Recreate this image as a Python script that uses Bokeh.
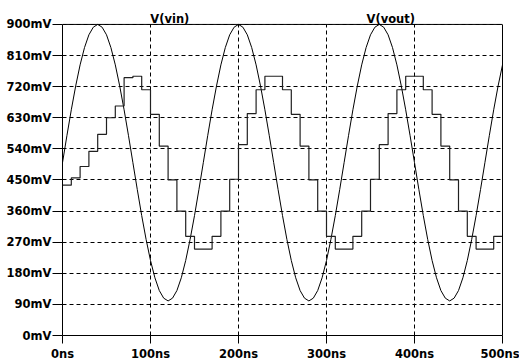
from bokeh.plotting import figure
from bokeh.models import Range1d, FixedTicker, Label, LinearAxis, Span
from bokeh.embed import file_html
from bokeh.resources import INLINE

# ---- data ----
# V(vin): sine read every 5 ns, mV
vin_t_ns = list(range(0, 501, 5))
vin_mV = [
    500, 578, 653, 722, 783, 833, 870, 892, 900, 892, 870, 833, 783, 722, 653, 578,
    500, 422, 347, 278, 217, 167, 130, 108, 100, 108, 130, 167, 217, 278, 347, 422,
    500, 578, 653, 722, 783, 833, 870, 892, 900, 892, 870, 833, 783, 722, 653, 578,
    500, 422, 347, 278, 217, 167, 130, 108, 100, 108, 130, 167, 217, 278, 347, 422,
    500, 578, 653, 722, 783, 833, 870, 892, 900, 892, 870, 833, 783, 722, 653, 578,
    500, 422, 347, 278, 217, 167, 130, 108, 100, 108, 130, 167, 217, 278, 347, 422,
    500, 578, 653, 722, 783,
]
# V(vout): staircase, one level per 10 ns interval, mV
vout_t_ns = list(range(0, 500, 10))
vout_mV = [
    435, 456, 489, 533, 582, 630, 664, 746, 750, 711,
    640, 548, 450, 360, 287, 250, 250, 287, 360, 452,
    552, 642, 711, 750, 750, 711, 640, 548, 450, 360,
    287, 250, 250, 287, 360, 452, 552, 642, 711, 750,
    750, 711, 640, 548, 450, 360, 287, 250, 250, 287,
]
x_ticks = [0, 100, 200, 300, 400, 500]
x_tick_labels = ["0ns", "100ns", "200ns", "300ns", "400ns", "500ns"]
y_ticks = [0, 90, 180, 270, 360, 450, 540, 630, 720, 810, 900]
y_tick_labels = ["0mV", "90mV", "180mV", "270mV", "360mV", "450mV",
                 "540mV", "630mV", "720mV", "810mV", "900mV"]
trace_names = ["V(vin)", "V(vout)"]
trace_label_x = [122, 373]

FONT = "DejaVu Sans"
FS = "11.5px"

W, H = 519, 363
TOP_PAD = 24          # px between canvas top and the 900 mV line
BOTTOM = 27
frame_h = H - BOTTOM
y_top = y_ticks[-1]
y_max = y_top * frame_h / (frame_h - TOP_PAD)

p = figure(width=W, height=H, x_range=Range1d(0, 500), y_range=Range1d(0, y_max),
           output_backend="svg", toolbar_location=None,
           min_border_left=62, min_border_right=17, min_border_top=0, min_border_bottom=BOTTOM)
p.background_fill_color = "white"
p.border_fill_color = "white"
p.outline_line_color = None

xt = FixedTicker(ticks=x_ticks)
yt = FixedTicker(ticks=y_ticks)
p.xaxis.ticker = xt
p.yaxis.ticker = yt
p.xaxis.major_label_overrides = {t: s for t, s in zip(x_ticks, x_tick_labels)}
p.yaxis.major_label_overrides = {t: s for t, s in zip(y_ticks, y_tick_labels)}
p.yaxis.bounds = (0, y_top)

for ax in (p.xaxis, p.yaxis):
    ax.axis_line_color = "black"
    ax.axis_line_width = 1
    ax.major_tick_line_color = "black"
    ax.minor_tick_line_color = None
    ax.major_tick_in = 0
    ax.major_label_text_font = FONT
    ax.major_label_text_font_style = "bold"
    ax.major_label_text_font_size = FS
    ax.major_label_text_color = "black"
p.yaxis.major_tick_out = 10
p.yaxis.major_label_standoff = 1
p.xaxis.major_tick_out = 8
p.xaxis.major_label_standoff = 3

# right border as a bare axis
right = LinearAxis(ticker=FixedTicker(ticks=[]), bounds=(0, y_top),
                   axis_line_color="black", axis_line_width=1,
                   major_tick_line_color=None, minor_tick_line_color=None,
                   major_label_text_font_size="0px", major_label_standoff=0)
p.add_layout(right, "right")

# horizontal grid from the y ticker; vertical grid drawn only up to the top line
p.xgrid.visible = False
p.ygrid.ticker = yt
p.ygrid.grid_line_color = "black"
p.ygrid.grid_line_dash = "4 3"
p.ygrid.grid_line_width = 1
inner_x = x_ticks[1:-1]
p.segment(x0=inner_x, y0=[0] * len(inner_x), x1=inner_x, y1=[y_top] * len(inner_x),
          line_color="black", line_width=1, line_dash="4 3", level="underlay")

# traces
p.line(vin_t_ns, vin_mV, line_color="black", line_width=1)
p.step(vout_t_ns + [500], vout_mV + [vout_mV[-1]], mode="after",
       line_color="#202020", line_width=1.2)

# top border
p.add_layout(Span(location=y_top, dimension="width", line_color="black", line_width=1))

for name, lx in zip(trace_names, trace_label_x):
    p.add_layout(Label(x=lx, y=y_top, y_offset=5, text=name, text_align="center",
                       text_baseline="alphabetic", text_font=FONT,
                       text_font_style="bold", text_font_size=FS, text_color="black"))

open("out.html", "w").write(file_html(p, INLINE))
